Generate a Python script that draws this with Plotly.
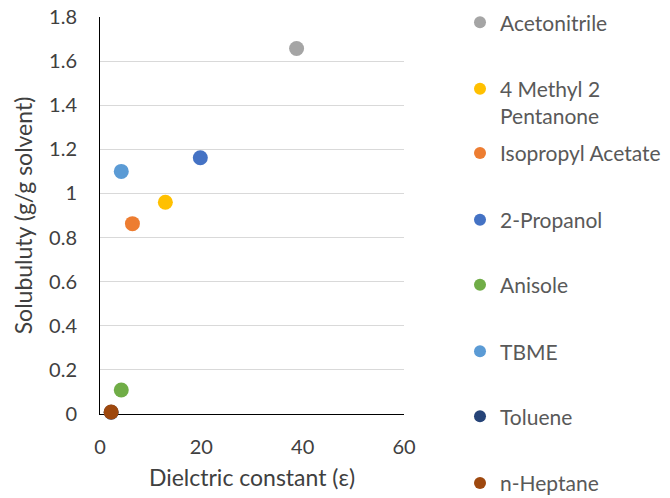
import plotly.graph_objects as go

# Solvent screening: solubility vs. dielectric constant
solvents = ["Acetonitrile", "4 Methyl 2<br>Pentanone", "Isopropyl Acetate", "2-Propanol",
            "Anisole", "TBME", "Toluene", "n-Heptane"]
dielectric = [38.8, 12.9, 6.4, 19.8, 4.2, 4.2, 2.2, 2.2]
solubility = [1.657, 0.960, 0.863, 1.162, 0.109, 1.100, 0.008, 0.009]
colors = ["#A5A5A5", "#FFC000", "#ED7D31", "#4472C4",
          "#70AD47", "#5B9BD5", "#264478", "#9E480E"]

x_ticks = [0, 20, 40, 60]
y_ticks = [0, 0.2, 0.4, 0.6, 0.8, 1, 1.2, 1.4, 1.6, 1.8]
y_tick_text = ["0", "0.2", "0.4", "0.6", "0.8", "1", "1.2", "1.4", "1.6", "1.8"]

# vertical centre (px from top) of each legend entry
legend_centres = [22.7, 102.5, 153.3, 220.0, 285.0, 351.7, 416.7, 483.3]

W, H = 670, 498
FONT = "Lato"

fig = go.Figure()
for i, (name, xv, yv, c) in enumerate(zip(solvents, dielectric, solubility, colors)):
    key = "legend" if i == 0 else f"legend{i + 1}"
    fig.add_trace(go.Scatter(
        x=[xv], y=[yv], mode="markers", name=name,
        marker=dict(size=15, color=c),
        cliponaxis=False, legend=key,
    ))

layout_legends = {}
for i, yc in enumerate(legend_centres):
    key = "legend" if i == 0 else f"legend{i + 1}"
    layout_legends[key] = dict(
        xref="container", yref="container",
        x=460 / W, y=1 - yc / H, xanchor="left", yanchor="middle",
        bgcolor="rgba(0,0,0,0)", borderwidth=0,
        font=dict(family=FONT, size=21, color="#595959"),
        itemsizing="constant", valign="top",
    )

fig.update_layout(
    width=W, height=H,
    margin=dict(l=100, r=266, t=17, b=84, autoexpand=False),
    paper_bgcolor="white", plot_bgcolor="white",
    font=dict(family=FONT, color="#404040"),
    showlegend=True,
    xaxis=dict(
        range=[0, 60], tickvals=x_ticks, automargin=False,
        showgrid=False, zeroline=False,
        showline=True, linecolor="black", linewidth=1,
        ticks="", ticklabelstandoff=15,
        tickfont=dict(family=FONT, size=20, color="#404040"),
        title=dict(text="Dielctric constant (ε)", standoff=12,
                   font=dict(family=FONT, size=23, color="#404040")),
        layer="below traces",
    ),
    yaxis=dict(
        range=[0, 1.8], tickvals=y_ticks, ticktext=y_tick_text, automargin=False,
        showgrid=True, gridcolor="#D9D9D9", gridwidth=1, zeroline=False,
        showline=True, linecolor="black", linewidth=1,
        ticks="", ticklabelstandoff=18,
        tickfont=dict(family=FONT, size=20, color="#404040"),
        title=dict(text="Solubuluty (g/g solvent)", standoff=10,
                   font=dict(family=FONT, size=23, color="#404040")),
        layer="below traces",
    ),
    **layout_legends,
)

fig.write_html("out.html")
